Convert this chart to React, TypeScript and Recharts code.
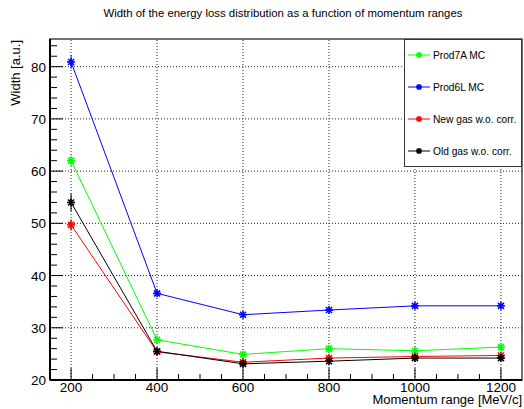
import {
  ErrorBar,
  Legend,
  Line,
  LineChart,
  ReferenceArea,
  ReferenceLine,
  XAxis,
  YAxis,
} from "recharts"

const momentum = [200, 400, 600, 800, 1000, 1200]
const prod7A = [62.0, 27.7, 24.9, 26.0, 25.6, 26.3]
const prod7AErr = [1.0, 0.5, 0.4, 0.4, 0.4, 0.4]
const prod6L = [80.9, 36.6, 32.5, 33.4, 34.2, 34.2]
const prod6LErr = [1.3, 0.5, 0.4, 0.4, 0.4, 0.4]
const newGas = [49.7, 25.4, 23.4, 24.2, 24.5, 24.7]
const newGasErr = [1.1, 0.4, 0.4, 0.4, 0.4, 0.4]
const oldGas = [54.0, 25.5, 23.1, 23.6, 24.2, 24.2]
const oldGasErr = [1.7, 0.4, 0.4, 0.4, 0.4, 0.4]

const xMajor = [200, 400, 600, 800, 1000, 1200]
const xTicks = [200, 250, 300, 350, 400, 450, 500, 550, 600, 650, 700, 750, 800, 850, 900, 950, 1000, 1050, 1100, 1150, 1200]
const yMajor = [30, 40, 50, 60, 70, 80]
const yTicks = [20, 22, 24, 26, 28, 30, 32, 34, 36, 38, 40, 42, 44, 46, 48, 50, 52, 54, 56, 58, 60, 62, 64, 66, 68, 70, 72, 74, 76, 78, 80, 82, 84]

const X_DOMAIN: [number, number] = [151, 1249]
const Y_DOMAIN: [number, number] = [20, 85.3]

const SERIES = [
  { key: "prod7A", err: "prod7AErr", name: "Prod7A MC", color: "#00ff00" },
  { key: "prod6L", err: "prod6LErr", name: "Prod6L MC", color: "#0000ff" },
  { key: "newGas", err: "newGasErr", name: "New gas w.o. corr.", color: "#ff0000" },
  { key: "oldGas", err: "oldGasErr", name: "Old gas w.o. corr.", color: "#000000" },
]

const data = momentum.map((p, i) => ({
  p,
  prod7A: prod7A[i],
  prod7AErr: prod7AErr[i],
  prod6L: prod6L[i],
  prod6LErr: prod6LErr[i],
  newGas: newGas[i],
  newGasErr: newGasErr[i],
  oldGas: oldGas[i],
  oldGasErr: oldGasErr[i],
}))

const FONT = "'Liberation Sans', Arial, Helvetica, sans-serif"
const WIDTH = 524
const HEIGHT = 409
const PLOT_LEFT = 50
const PLOT_BOTTOM = 380

function Star({ cx, cy, color, r = 4 }: { cx: number; cy: number; color: string; r?: number }) {
  return (
    <g stroke={color} strokeWidth={1.6}>
      <line x1={cx - r} y1={cy} x2={cx + r} y2={cy} />
      <line x1={cx} y1={cy - r} x2={cx} y2={cy + r} />
      <line x1={cx - r * 0.75} y1={cy - r * 0.75} x2={cx + r * 0.75} y2={cy + r * 0.75} />
      <line x1={cx - r * 0.75} y1={cy + r * 0.75} x2={cx + r * 0.75} y2={cy - r * 0.75} />
    </g>
  )
}

function YTick({ y, payload }: any) {
  const major = payload.value % 10 === 0
  return (
    <g>
      <line x1={PLOT_LEFT} x2={PLOT_LEFT + (major ? 13 : 7)} y1={y} y2={y} stroke="#000" strokeWidth={1} />
      {major ? (
        <text x={PLOT_LEFT - 4} y={y + 5} textAnchor="end" fontSize={13.5} fontFamily={FONT} fill="#000">
          {payload.value}
        </text>
      ) : null}
    </g>
  )
}

function XTick({ x, payload }: any) {
  const major = payload.value % 200 === 0
  return (
    <g>
      <line x1={x} x2={x} y1={PLOT_BOTTOM} y2={PLOT_BOTTOM - (major ? 12 : 6)} stroke="#000" strokeWidth={1} />
      {major ? (
        <text x={x} y={PLOT_BOTTOM + 12} textAnchor="middle" fontSize={13.5} fontFamily={FONT} fill="#000">
          {payload.value}
        </text>
      ) : null}
    </g>
  )
}

function LegendBox() {
  return (
    <svg width={118} height={128} style={{ display: "block" }}>
      <rect x={0.5} y={0.5} width={117} height={127} fill="#fff" stroke="#333" strokeWidth={1} />
      {SERIES.map((s, i) => {
        const cy = 16 + i * 32
        return (
          <g key={s.key}>
            <line x1={4} x2={26} y1={cy} y2={cy} stroke={s.color} strokeWidth={1} />
            <Star cx={15} cy={cy} color={s.color} r={3} />
            <text x={29} y={cy + 3.5} fontSize={10.2} fontFamily={FONT} fill="#000">
              {s.name}
            </text>
          </g>
        )
      })}
    </svg>
  )
}

export default function App() {
  return (
    <div style={{ position: "absolute", left: 0, top: 0, width: WIDTH, height: HEIGHT, background: "#fff" }}>
      <div
        style={{
          position: "absolute",
          left: 283,
          top: 8,
          transform: "translateX(-50%)",
          whiteSpace: "nowrap",
          fontFamily: FONT,
          fontSize: 11.4,
          lineHeight: 1,
          color: "#000",
        }}
      >
        Width of the energy loss distribution as a function of momentum ranges
      </div>
      <LineChart
        width={WIDTH}
        height={HEIGHT}
        data={data}
        margin={{ top: 39, right: 2, bottom: 0, left: 0 }}
        style={{ position: "absolute", left: 0, top: 0 }}
      >
        <ReferenceArea
          x1={X_DOMAIN[0]}
          x2={X_DOMAIN[1]}
          y1={Y_DOMAIN[0]}
          y2={Y_DOMAIN[1]}
          fill="none"
          stroke="#444"
          strokeWidth={1.5}
        />
        {xMajor.map((v) => (
          <ReferenceLine key={`x${v}`} x={v} stroke="#222" strokeDasharray="1 2" />
        ))}
        {yMajor.map((v) => (
          <ReferenceLine key={`y${v}`} y={v} stroke="#222" strokeDasharray="1 2" />
        ))}
        <XAxis
          dataKey="p"
          type="number"
          domain={X_DOMAIN}
          ticks={xTicks}
          allowDataOverflow
          height={29}
          tickLine={false}
          axisLine={{ stroke: "#000", strokeWidth: 2 }}
          tick={<XTick />}
          interval={0}
          label={{
            content: ({ viewBox }: any) => (
              <text
                x={viewBox.x + viewBox.width}
                y={viewBox.y + 24}
                textAnchor="end"
                fontSize={13}
                fontFamily={FONT}
                fill="#000"
              >
                Momentum range [MeV/c]
              </text>
            ),
          }}
        />
        <YAxis
          type="number"
          domain={Y_DOMAIN}
          ticks={yTicks}
          allowDataOverflow
          width={50}
          tickLine={false}
          axisLine={{ stroke: "#000", strokeWidth: 2 }}
          tick={<YTick />}
          interval={0}
          label={{
            content: ({ viewBox }: any) => (
              <text
                x={20}
                y={viewBox.y + 1}
                transform={`rotate(-90, 20, ${viewBox.y + 1})`}
                textAnchor="end"
                fontSize={13}
                fontFamily={FONT}
                fill="#000"
              >
                Width [a.u.]
              </text>
            ),
          }}
        />
        {SERIES.map((s) => (
          <Line
            key={s.key}
            dataKey={s.key}
            name={s.name}
            stroke={s.color}
            strokeWidth={1}
            type="linear"
            isAnimationActive={false}
            dot={(props: any) => <Star key={`${s.key}-${props.index}`} cx={props.cx} cy={props.cy} color={s.color} />}
            activeDot={false}
          >
            <ErrorBar dataKey={s.err} direction="y" width={0} stroke={s.color} strokeWidth={1} isAnimationActive={false} />
          </Line>
        ))}
        <Legend
          layout="vertical"
          align="center"
          verticalAlign="middle"
          wrapperStyle={{ left: 404, top: 39, width: 118, height: 128 }}
          content={() => <LegendBox />}
        />
      </LineChart>
    </div>
  )
}
